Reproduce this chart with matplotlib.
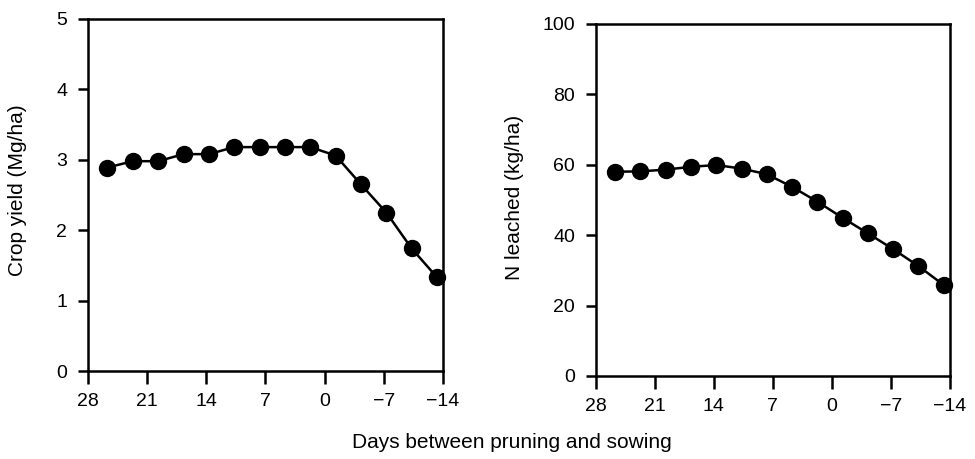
import matplotlib
matplotlib.use("Agg")
import matplotlib.pyplot as plt

plt.rcParams['font.family'] = ['Liberation Sans', 'DejaVu Sans']

days = [25.7, 22.7, 19.7, 16.7, 13.7, 10.7, 7.7, 4.7, 1.7, -1.3, -4.3, -7.3, -10.3, -13.3]
crop_yield = [2.89, 2.98, 2.98, 3.08, 3.08, 3.18, 3.18, 3.18, 3.18, 3.06, 2.65, 2.25, 1.74, 1.33]
n_leached = [58.0, 58.1, 58.6, 59.4, 59.9, 58.9, 57.3, 53.7, 49.5, 44.9, 40.5, 36.0, 31.2, 25.8]

x_ticks = [28, 21, 14, 7, 0, -7, -14]
yield_ticks = [0, 1, 2, 3, 4, 5]
leach_ticks = [0, 20, 40, 60, 80, 100]

fig = plt.figure(figsize=(9.75, 4.59), dpi=100)
ax1 = fig.add_axes([0.0903, 0.1917, 0.364, 0.767])
ax2 = fig.add_axes([0.611, 0.181, 0.363, 0.767])

def style(ax, y, yticks, ylabel, lx, ly):
    ax.plot(days, y, color='black', lw=1.8, marker='o', ms=11.5, mfc='black', mec='black', clip_on=False, zorder=3)
    ax.set_xlim(28, -14)
    ax.set_ylim(yticks[0], yticks[-1])
    ax.set_xticks(x_ticks)
    ax.set_xticklabels([f"{t}".replace('-', '\u2212') for t in x_ticks])
    ax.set_yticks(yticks)
    for s in ax.spines.values():
        s.set_linewidth(1.8)
    ax.tick_params(axis='x', direction='out', length=9, width=1.8, pad=7, labelsize=14)
    ax.tick_params(axis='y', direction='out', length=7, width=1.8, pad=8, labelsize=14)
    ax.set_ylabel(ylabel, fontsize=15)
    ax.yaxis.set_label_coords(lx, ly)

style(ax1, crop_yield, yield_ticks, 'Crop yield (Mg/ha)', -0.172, 0.513)
style(ax2, n_leached, leach_ticks, 'N leached (kg/ha)', -0.203, 0.508)

fig.text(0.525, 0.035, 'Days between pruning and sowing', ha='center', va='center', fontsize=15)

fig.savefig('out.png', dpi=100)
